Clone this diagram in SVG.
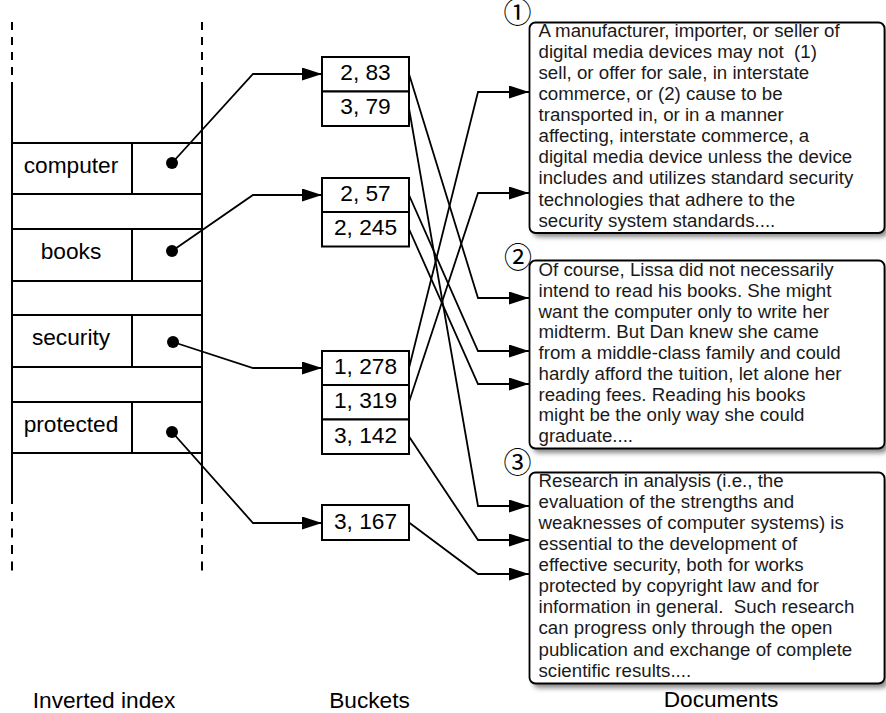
<svg xmlns="http://www.w3.org/2000/svg" width="886" height="713" viewBox="0 0 886 713">
<style>
.ln{fill:none;stroke:#000;stroke-width:2}
.cn{fill:none;stroke:#000;stroke-width:1.8;marker-end:url(#ah)}
.bx{fill:#fff;stroke:#000;stroke-width:2}
.lbl{font-family:"Liberation Sans",Arial,sans-serif;font-size:22.7px;fill:#000}
.mid{text-anchor:middle}
.doc{fill:#fff;stroke:#000;stroke-width:1.8}
.dt{font-family:"Liberation Sans",Arial,sans-serif;font-size:18.7px;fill:#1a1a1a;white-space:pre}
.num{font-family:"Liberation Sans","Noto Sans CJK JP",sans-serif;font-size:28px;fill:#000;text-anchor:middle}
</style>
<defs>
<marker id="ah" markerUnits="userSpaceOnUse" markerWidth="20" markerHeight="13" refX="20" refY="6.5" orient="auto">
<path d="M0,0 L20,6.5 L0,13 z" fill="#000"/>
</marker>
<filter id="sh" x="-5%" y="-5%" width="115%" height="115%">
<feGaussianBlur stdDeviation="2.5"/>
</filter>
</defs>
<rect width="886" height="713" fill="#fff"/>

<g id="index">
<line class="ln" x1="12" y1="22" x2="12" y2="83" stroke-dasharray="8 7"/>
<line class="ln" x1="202" y1="22" x2="202" y2="83" stroke-dasharray="8 7"/>
<line class="ln" x1="12" y1="83" x2="12" y2="504"/>
<line class="ln" x1="202" y1="83" x2="202" y2="504"/>
<line class="ln" x1="12" y1="512" x2="12" y2="576" stroke-dasharray="9 7.5"/>
<line class="ln" x1="202" y1="512" x2="202" y2="576" stroke-dasharray="9 7.5"/>
<g id="row-computer">
<rect class="ln" x="12" y="143" width="190" height="51"/>
<line class="ln" x1="132" y1="143" x2="132" y2="194"/>
<text class="lbl mid" x="71" y="173">computer</text>
<circle cx="172" cy="163" r="6"/>
</g>
<rect class="ln" x="12" y="194" width="190" height="35"/>
<g id="row-books">
<rect class="ln" x="12" y="229" width="190" height="52"/>
<line class="ln" x1="132" y1="229" x2="132" y2="281"/>
<text class="lbl mid" x="71" y="259">books</text>
<circle cx="172" cy="251" r="6"/>
</g>
<rect class="ln" x="12" y="281" width="190" height="34"/>
<g id="row-security">
<rect class="ln" x="12" y="315" width="190" height="52"/>
<line class="ln" x1="132" y1="315" x2="132" y2="367"/>
<text class="lbl mid" x="71" y="345">security</text>
<circle cx="173" cy="342" r="6"/>
</g>
<rect class="ln" x="12" y="367" width="190" height="35"/>
<g id="row-protected">
<rect class="ln" x="12" y="402" width="190" height="51"/>
<line class="ln" x1="132" y1="402" x2="132" y2="453"/>
<text class="lbl mid" x="71" y="432">protected</text>
<circle cx="172" cy="432" r="6"/>
</g>
</g>

<g id="connectors">
<polyline class="cn" points="172,163 253,74 322,74"/>
<polyline class="cn" points="172,251 253,195 322,195"/>
<polyline class="cn" points="173,342 253,368 322,368"/>
<polyline class="cn" points="172,432 253,523 322,523"/>
<polyline class="cn" points="409,74 478,298 529,298"/>
<polyline class="cn" points="409,108.5 478,506 529,506"/>
<polyline class="cn" points="409,195 478,351 529,351"/>
<polyline class="cn" points="409,229 478,384 529,384"/>
<polyline class="cn" points="409,368 478,92 529,92"/>
<polyline class="cn" points="409,402 478,193 529,193"/>
<polyline class="cn" points="409,436.5 478,540 529,540"/>
<polyline class="cn" points="409,522.5 478,574 529,574"/>
</g>

<g id="bucket-1">
<rect class="bx" x="322" y="57" width="87" height="34.5"/>
<rect class="bx" x="322" y="91.5" width="87" height="34.5"/>
<text class="lbl mid" x="365.5" y="80">2, 83</text>
<text class="lbl mid" x="365.5" y="114">3, 79</text>
</g>
<g id="bucket-2">
<rect class="bx" x="322" y="178" width="87" height="34"/>
<rect class="bx" x="322" y="212" width="87" height="34.5"/>
<text class="lbl mid" x="365.5" y="201">2, 57</text>
<text class="lbl mid" x="365.5" y="235">2, 245</text>
</g>
<g id="bucket-3">
<rect class="bx" x="322" y="351" width="87" height="34"/>
<rect class="bx" x="322" y="385" width="87" height="34.5"/>
<rect class="bx" x="322" y="419.5" width="87" height="34.5"/>
<text class="lbl mid" x="365.5" y="374">1, 278</text>
<text class="lbl mid" x="365.5" y="408">1, 319</text>
<text class="lbl mid" x="365.5" y="443">3, 142</text>
</g>
<g id="bucket-4">
<rect class="bx" x="322" y="505" width="87" height="35"/>
<text class="lbl mid" x="365.5" y="529">3, 167</text>
</g>

<g id="doc-1">
<rect x="533" y="27" width="355" height="210" rx="6" fill="#888" filter="url(#sh)"/>
<rect class="doc" x="529.5" y="22.5" width="355" height="210.5" rx="6"/>
<text class="num" x="517.5" y="22.5">①</text>
<text class="dt" x="538.5" y="36.7"><tspan x="538.5">A manufacturer, importer, or seller of</tspan><tspan x="538.5" dy="21.1">digital media devices may not  (1)</tspan><tspan x="538.5" dy="21.1">sell, or offer for sale, in interstate</tspan><tspan x="538.5" dy="21.1">commerce, or (2) cause to be</tspan><tspan x="538.5" dy="21.1">transported in, or in a manner</tspan><tspan x="538.5" dy="21.1">affecting, interstate commerce, a</tspan><tspan x="538.5" dy="21.1">digital media device unless the device</tspan><tspan x="538.5" dy="21.1">includes and utilizes standard security</tspan><tspan x="538.5" dy="21.1">technologies that adhere to the</tspan><tspan x="538.5" dy="21.1">security system standards....</tspan></text>
</g>
<g id="doc-2">
<rect x="533" y="265" width="355" height="188" rx="6" fill="#888" filter="url(#sh)"/>
<rect class="doc" x="529.5" y="260.5" width="355" height="188" rx="6"/>
<text class="num" x="518" y="267.5">②</text>
<text class="dt" x="538.5" y="276"><tspan x="538.5">Of course, Lissa did not necessarily</tspan><tspan x="538.5" dy="20.75">intend to read his books. She might</tspan><tspan x="538.5" dy="20.75">want the computer only to write her</tspan><tspan x="538.5" dy="20.75">midterm. But Dan knew she came</tspan><tspan x="538.5" dy="20.75">from a middle-class family and could</tspan><tspan x="538.5" dy="20.75">hardly afford the tuition, let alone her</tspan><tspan x="538.5" dy="20.75">reading fees. Reading his books</tspan><tspan x="538.5" dy="20.75">might be the only way she could</tspan><tspan x="538.5" dy="20.75">graduate....</tspan></text>
</g>
<g id="doc-3">
<rect x="533" y="477" width="355" height="211" rx="6" fill="#888" filter="url(#sh)"/>
<rect class="doc" x="529.5" y="472.5" width="355" height="211" rx="6"/>
<text class="num" x="517.5" y="473">③</text>
<text class="dt" x="538.5" y="486.7"><tspan x="538.5">Research in analysis (i.e., the</tspan><tspan x="538.5" dy="21.1">evaluation of the strengths and</tspan><tspan x="538.5" dy="21.1">weaknesses of computer systems) is</tspan><tspan x="538.5" dy="21.1">essential to the development of</tspan><tspan x="538.5" dy="21.1">effective security, both for works</tspan><tspan x="538.5" dy="21.1">protected by copyright law and for</tspan><tspan x="538.5" dy="21.1">information in general.  Such research</tspan><tspan x="538.5" dy="21.1">can progress only through the open</tspan><tspan x="538.5" dy="21.1">publication and exchange of complete</tspan><tspan x="538.5" dy="21.1">scientific results....</tspan></text>
</g>

<g id="captions">
<text class="lbl mid" x="104" y="708">Inverted index</text>
<text class="lbl mid" x="369.5" y="708">Buckets</text>
<text class="lbl mid" x="721" y="707">Documents</text>
</g>
</svg>
